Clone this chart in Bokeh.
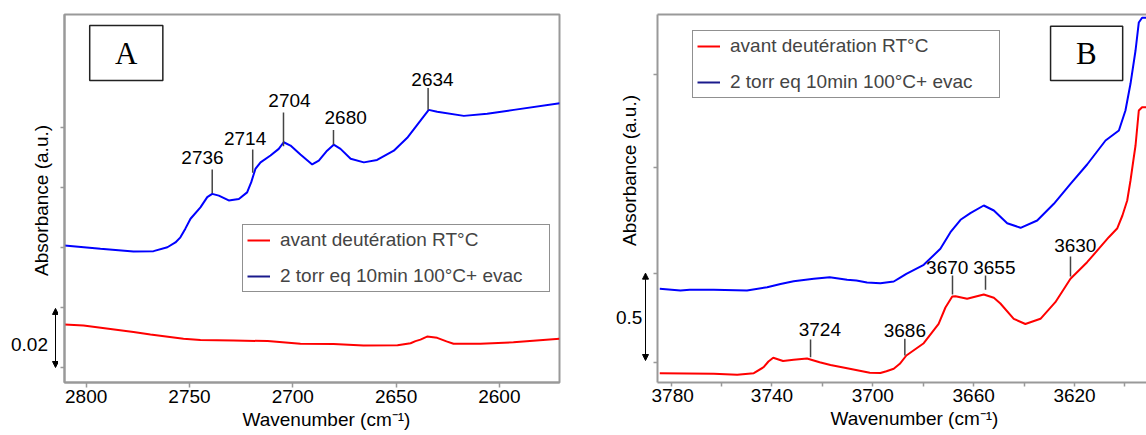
import math
from bokeh.plotting import figure
from bokeh.layouts import row
from bokeh.models import (Range1d, FixedTicker, Label, Arrow, NormalHead, Legend,
                          LegendItem, BoxAnnotation, LinearAxis, Title)
from bokeh.embed import file_html
from bokeh.resources import INLINE
from bokeh.core.properties import value

FONT = "Liberation Sans"
SERIF = "Liberation Serif"

# ---------------- Panel A data (OD region) ----------------
wnA_red = [2810.5, 2801.3, 2777.1, 2768.9, 2752.9, 2744.7, 2728.7, 2712.2, 2696.3,
           2680.3, 2665.8, 2649.3, 2643.0, 2640.6, 2638.2, 2635.0, 2630.1, 2625.6,
           2622.2, 2609.2, 2593.2, 2570.9]
absA_red = [0.0143, 0.0140, 0.0118, 0.0110, 0.0096, 0.0092, 0.0090, 0.0088, 0.0079,
            0.0078, 0.0073, 0.0074, 0.0081, 0.0088, 0.0093, 0.0103, 0.0099, 0.0087,
            0.0079, 0.0079, 0.0084, 0.0096]
wnA_blue = [2810.5, 2793.1, 2777.1, 2767.4, 2760.7, 2756.8, 2754.4, 2752.0, 2749.5,
            2744.7, 2741.4, 2739.0, 2735.8, 2731.0, 2726.1, 2722.1, 2720.1, 2718.1,
            2715.6, 2710.8, 2706.8, 2704.4, 2701.1, 2696.3, 2690.6, 2687.4, 2683.4,
            2680.2, 2676.9, 2672.0, 2665.6, 2659.2, 2651.1, 2644.6, 2638.2, 2634.2,
            2630.1, 2617.2, 2605.9, 2593.0, 2570.8]
absA_blue = [0.0407, 0.0396, 0.0387, 0.0388, 0.0401, 0.0417, 0.0434, 0.0463, 0.0496,
             0.0534, 0.0568, 0.0579, 0.0573, 0.0557, 0.0562, 0.0584, 0.0618, 0.0662,
             0.0684, 0.0707, 0.0729, 0.0751, 0.0740, 0.0710, 0.0677, 0.0690, 0.0723,
             0.0743, 0.0729, 0.0696, 0.0684, 0.0692, 0.0723, 0.0766, 0.0823, 0.0859,
             0.0853, 0.0839, 0.0846, 0.0859, 0.0881]
peakA_text = ["2736", "2714", "2704", "2680", "2634"]
peakA_tick_wn = [2739.0, 2719.4, 2704.5, 2680.3, 2634.5]
peakA_tick_lo = [0.0581, 0.0649, 0.0738, 0.0743, 0.0859]
peakA_tick_hi = [0.0660, 0.0727, 0.0850, 0.0792, 0.0932]
peakA_lab_wn = [2743.7, 2723.1, 2701.6, 2674.4, 2632.4]
peakA_lab_y = [0.0701, 0.0764, 0.0890, 0.0832, 0.0959]
xticksA = [2600, 2650, 2700, 2750, 2800]
yticksA = [0.0, 0.02, 0.04, 0.06, 0.08]

# ---------------- Panel B data (OH region) ----------------
wnB_red = [3784.5, 3763.1, 3753.8, 3747.2, 3743.3, 3741.4, 3739.5, 3737.4, 3735.6,
           3731.4, 3726.1, 3721.1, 3716.8, 3710.2, 3701.2, 3697.0, 3694.6, 3691.7,
           3689.3, 3686.7, 3679.8, 3673.9, 3671.2, 3668.5, 3667.2, 3662.6, 3656.0,
           3652.0, 3649.4, 3644.1, 3639.5, 3633.5, 3627.6, 3621.6, 3615.0, 3606.4,
           3603.1, 3601.0, 3599.1, 3597.8, 3596.5, 3595.8, 3594.5, 3593.2, 3591.5]
absB_red = [-0.0623, -0.0656, -0.0713, -0.0623, -0.0283, 0.0040, 0.0249, 0.0153, 0.0068,
            0.0136, 0.0209, 0.0000, -0.0158, -0.0340, -0.0600, -0.0611, -0.0509, -0.0374,
            -0.0091, 0.0379, 0.1075, 0.2173, 0.3096, 0.3718, 0.3735, 0.3588, 0.3831,
            0.3645, 0.3322, 0.2456, 0.2162, 0.2456, 0.3396, 0.4720, 0.5659, 0.7074,
            0.7566, 0.8302, 0.9151, 1.0283, 1.1585, 1.2264, 1.4245, 1.4431, 1.4431]
wnB_blue = [3784.5, 3776.3, 3772.6, 3763.1, 3749.9, 3741.9, 3736.6, 3731.4, 3723.4,
            3717.1, 3710.2, 3706.5, 3702.3, 3697.0, 3691.7, 3689.3, 3686.7, 3679.8,
            3673.2, 3669.2, 3665.2, 3661.3, 3656.0, 3652.0, 3646.7, 3641.4, 3634.8,
            3628.2, 3621.6, 3615.0, 3607.7, 3602.4, 3599.8, 3597.8, 3595.8, 3594.5,
            3593.2, 3591.5]
absB_blue = [0.4154, 0.4058, 0.4097, 0.4097, 0.4058, 0.4244, 0.4426, 0.4584, 0.4720,
             0.4810, 0.4663, 0.4624, 0.4511, 0.4471, 0.4567, 0.4776, 0.5003, 0.5512,
             0.6418, 0.7357, 0.8059, 0.8432, 0.8868, 0.8585, 0.7866, 0.7606, 0.8019,
             0.8964, 1.0096, 1.1189, 1.2547, 1.3113, 1.4244, 1.5756, 1.7640, 1.9225,
             1.9491, 1.9491]
peakB_text = ["3724", "3686", "3670", "3655", "3630"]
peakB_tick_wn = [3724.7, 3687.3, 3668.4, 3655.3, 3621.6]
peakB_tick_lo = [0.0283, 0.0379, 0.3831, 0.4097, 0.4850]
peakB_tick_hi = [0.1279, 0.1324, 0.4907, 0.4907, 0.5982]
peakB_lab_wn = [3721.0, 3687.3, 3670.5, 3651.8, 3619.7]
peakB_lab_y = [0.1834, 0.1794, 0.5342, 0.5342, 0.6604]
xticksB_major = [3620, 3660, 3700, 3740, 3780]
xticksB_minor = [3600, 3640, 3680, 3720, 3760]
yticksB = [0.0, 0.5, 1.1, 1.63]

legend_labels = ["avant deutération RT°C", "2 torr eq 10min 100°C+ evac"]
xlabel = "Wavenumber  (cm\u207b\u00b9)"
ylabel = "Absorbance (a.u.)"

GRAY = "#999999"
H = 435
TOP = 14
BOTTOM = 53


def style(p, xmajor, xminor, yminor, xtick_out):
    p.xgrid.visible = False
    p.ygrid.visible = False
    p.xaxis.ticker = FixedTicker(ticks=xmajor, minor_ticks=xminor)
    p.yaxis.ticker = FixedTicker(ticks=[], minor_ticks=yminor)
    for ax in (p.xaxis, p.yaxis):
        ax.axis_line_color = GRAY
        ax.axis_line_width = 2
        ax.major_tick_line_color = GRAY
        ax.major_tick_line_width = 1.5
        ax.minor_tick_line_color = GRAY
        ax.minor_tick_line_width = 1.5
        ax.major_tick_in = 0
        ax.minor_tick_in = 0
    p.xaxis.major_tick_out = xtick_out
    p.xaxis.minor_tick_out = xtick_out
    p.yaxis.minor_tick_out = 4
    p.yaxis.major_tick_out = 4
    p.yaxis.major_label_standoff = 0
    p.xaxis.major_label_text_font = FONT
    p.xaxis.major_label_text_font_size = "19px"
    p.xaxis.major_label_text_color = "black"
    p.xaxis.major_label_standoff = 2


def text_label(p, x, y, t, size="19px", font=FONT, angle=0.0):
    p.add_layout(Label(x=x, y=y, text=t, text_font=font, text_font_size=size,
                       text_align="center", text_baseline="middle", angle=angle,
                       text_color="black"))


def make_legend(p, red_r, wn_b, ab_b, x, y):
    blue_swatch = p.line(x=wn_b[:1], y=ab_b[:1], color="#1a1a8c", line_width=2)
    leg = Legend(items=[LegendItem(label=legend_labels[0], renderers=[red_r]),
                        LegendItem(label=legend_labels[1], renderers=[blue_swatch])],
                 location=(x, y), border_line_color="#222222", border_line_width=1,
                 background_fill_color="white", background_fill_alpha=1.0,
                 padding=4, spacing=14, margin=0, glyph_width=23, glyph_height=20,
                 label_height=20, label_standoff=10, label_width=265,
                 label_text_font=FONT, label_text_font_size="19px")
    p.add_layout(leg)


def x_title(p, offset):
    p.add_layout(Title(text=xlabel, align="left", offset=offset, standoff=2,
                       text_font=FONT, text_font_size="19px",
                       text_font_style="normal", text_color="black"), "below")


def margin_fig(width, x0, yr):
    m = figure(width=width, height=H, output_backend="svg", toolbar_location=None,
               x_axis_type=None, y_axis_type=None,
               x_range=Range1d(x0, x0 + width), y_range=yr,
               min_border_left=0, min_border_right=0, min_border_top=TOP,
               min_border_bottom=BOTTOM)
    m.outline_line_color = None
    return m


def scale_bar(m, x, y0, y1, txt, tx, ty):
    m.add_layout(Arrow(x_start=x, y_start=y0, x_end=x, y_end=y1,
                       line_width=1, line_color="black",
                       start=NormalHead(size=6, fill_color="black", line_color="black"),
                       end=NormalHead(size=6, fill_color="black", line_color="black")))
    text_label(m, tx, ty, txt)


# ---------------- Figure A ----------------
yrA = Range1d(-0.005, 0.1177)
pA = figure(width=542, height=H, output_backend="svg", toolbar_location=None,
            x_range=Range1d(2810.5, 2570.9), y_range=yrA,
            min_border_left=6, min_border_right=41, min_border_top=TOP,
            min_border_bottom=BOTTOM)
pA.outline_line_color = GRAY
pA.outline_line_width = 2
style(pA, xticksA, [], yticksA, 5)

rA_red = pA.line(wnA_red, absA_red, color="red", line_width=2)
pA.line(wnA_blue, absA_blue, color="blue", line_width=2)
pA.segment(x0=peakA_tick_wn, y0=peakA_tick_lo, x1=peakA_tick_wn, y1=peakA_tick_hi,
           color="#444444", line_width=1.5)
pA.text(x=peakA_lab_wn, y=peakA_lab_y, text=peakA_text, text_font=value(FONT),
        text_font_size="19px", text_align="center", text_baseline="middle",
        text_color="black")
make_legend(pA, rA_red, wnA_blue, absA_blue, 178, 90)
pA.add_layout(BoxAnnotation(left=2798.3, right=2762.9, bottom=0.0957, top=0.114,
                            fill_color="white", fill_alpha=1.0, line_color="#222222",
                            line_width=1.5, line_alpha=1.0))
text_label(pA, 2780.6, 0.1048, "A", size="31px", font=SERIF)
x_title(pA, 178)

mA = margin_fig(58, 0, yrA)
scale_bar(mA, 55, 0.0, 0.0197, "0.02", 29, 0.0077)
text_label(mA, 41, 0.0557, ylabel, angle=math.pi / 2)

# ---------------- Figure B ----------------
yrB = Range1d(-0.1149, 1.9677)
pB = figure(width=495, height=H, output_backend="svg", toolbar_location=None,
            x_range=Range1d(3785.4, 3591.45), y_range=yrB,
            min_border_left=6, min_border_right=0, min_border_top=TOP,
            min_border_bottom=BOTTOM)
pB.outline_line_color = None
style(pB, xticksB_major, xticksB_minor, yticksB, 4)
top_axis = LinearAxis(ticker=FixedTicker(ticks=[], minor_ticks=[]),
                      axis_line_color=GRAY, axis_line_width=2,
                      major_tick_line_color=None, minor_tick_line_color=None,
                      major_tick_out=0, major_tick_in=0, minor_tick_out=0,
                      minor_tick_in=0, major_label_standoff=0)
pB.add_layout(top_axis, "above")

rB_red = pB.line(wnB_red, absB_red, color="red", line_width=2)
pB.line(wnB_blue, absB_blue, color="blue", line_width=2)
pB.segment(x0=peakB_tick_wn, y0=peakB_tick_lo, x1=peakB_tick_wn, y1=peakB_tick_hi,
           color="#444444", line_width=1.5)
pB.text(x=peakB_lab_wn, y=peakB_lab_y, text=peakB_text, text_font=value(FONT),
        text_font_size="19px", text_align="center", text_baseline="middle",
        text_color="black")
make_legend(pB, rB_red, wnB_blue, absB_blue, 35, 284)
pB.add_layout(BoxAnnotation(left=3629.5, right=3600.9, bottom=1.594, top=1.9015,
                            fill_color="white", fill_alpha=1.0, line_color="#222222",
                            line_width=1.5, line_alpha=1.0))
text_label(pB, 3615.3, 1.747, "B", size="31px", font=SERIF)
x_title(pB, 173)

mB = margin_fig(51, 600, yrB)
scale_bar(mB, 645, 0.0096, 0.504, "0.5", 628.7, 0.255)
text_label(mB, 628.5, 1.085, ylabel, angle=math.pi / 2)

layout = row(mA, pA, mB, pB)
open("out.html", "w").write(file_html(layout, INLINE))
